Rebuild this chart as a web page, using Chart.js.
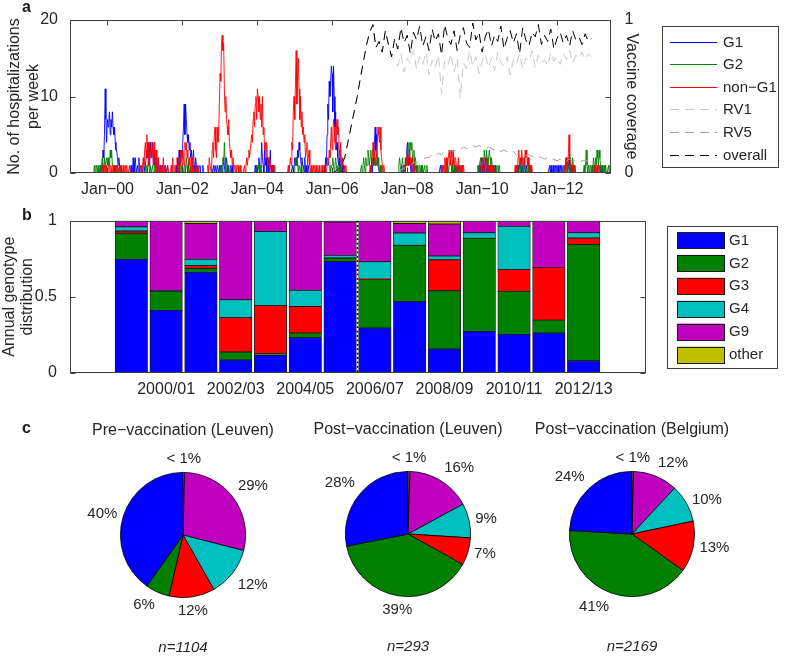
<!DOCTYPE html>
<html>
<head>
<meta charset="utf-8">
<script src="https://cdn.jsdelivr.net/npm/chart.js@4.4.0/dist/chart.umd.min.js"></script>
<style>
  html, body { margin: 0; padding: 0; background: #fff; }
  #fig { position: relative; width: 787px; height: 656px; overflow: hidden; font-family: "Liberation Sans", Arial, sans-serif; }
  #fig canvas { position: absolute; }
  .panel { position: absolute; font: bold 16px/16px "Liberation Sans", Arial, sans-serif; color: #1a1a1a; }
</style>
</head>
<body>
<div id="fig">
  <canvas id="hosp" width="787" height="200" style="left:0;top:0"></canvas>
  <canvas id="geno" width="787" height="200" style="left:0;top:200px"></canvas>
  <canvas id="pie1" width="240" height="240" style="left:63px;top:415px"></canvas>
  <canvas id="pie2" width="240" height="240" style="left:288px;top:414px"></canvas>
  <canvas id="pie3" width="240" height="240" style="left:512px;top:414px"></canvas>
  <div class="panel" style="left:22px;top:-1px">a</div>
  <div class="panel" style="left:22px;top:207px">b</div>
  <div class="panel" style="left:22px;top:420px">c</div>
</div>
<script>
const FONT = '"Liberation Sans", Arial, sans-serif';
Chart.defaults.font.family = FONT;
Chart.defaults.font.size = 16;
Chart.defaults.color = '#262626';

// ---- panel a: weekly hospitalizations (week 0 = 1 Jan 1999) ----
const firstYear = 1999;
const nWeeks = 754;
// blocks of [first week, weekly counts...]; all other weeks are 0
const g1Blocks = [
  [43, [1,0,1,3,2,5,11,7,4,7,6,7,8,5,7,6,8,6,5,6,4,3,3,2,1,2,1,0,1]],
  [85, [1,0,0,2,0,1,2,0,0,1,0,2]],
  [100, [1,0,0,1,0,1,2,3,2,4,3,1,4,2,3,4,2,1,3,1,0,1,0,2,0,0,1,0,0,1,0,0,1,0,0,0,1]],
  [148, [1,0,2,1,3,1,2,3,2,4,6,9,5,9,7,5,4,5,3,4,2,3,1,2,3,1,0,2,1,0,1,0,0,1,0,0,0,1]],
  [200, [1,0,1,1,0,1,1,0,1,0,1,1,0,1,2,1,0,1,2,1,0,1,0,0,1,0,1]],
  [258, [1,0,1,0,1,2,1,0,1,4,2,1,0,3,1,2,0,1,2,0,1,3,0,1,0,1]],
  [310, [1,0,1,2,1,2,1,3,2,4,3,2,1,2,1,1,0,2,0,1,0,0,1]],
  [354, [1,0,2,1,5,9,7,12,10,12,14,13,8,14,10,6,8,3,4,2,1,2,0,1,0,1,0,1]],
  [420, [1,0,2,1,4,6,3,5,2,1,1]],
  [462, [1,0,0,1,0,1,2,3,4,2,1,2,1,0,1,0,0,1]],
  [516, [1,0,1,0,0,0,0,0,0,0,0,0,0,0,0,0,0,0,0,1,0,0,0,0,0,1]],
  [570, [1,0,1,2,1,0,1,0,2,1,0,1,0,0,1,0,1,0,0,1,0,0,1]],
  [622, [1,0,1,0,0,0,1,0,1,0,0,1,0,0,1]],
  [668, [1,0,1,0,0,1,0,0,1,0,1,0,1,0,0,1,0,1,0,0,1,0,1,2,1,0,1,2,1,0,1,0,0,1]],
  [738, [1,0,0,1]]
];
const g2Blocks = [
  [34, [1,0,1,1,0,1,0,0,1,0,1,2,1,0,2,1,1,2,1,2,1,1,3,2,3,1,1,0,1,0,0,1,0,0,0,1]],
  [105, [1,0,1,0,2,1,0,1,0,0,1,0,0,1]],
  [152, [1,0,0,1,0,1,0,0,1,0,2,1,0,1,0,0,1,0,1]],
  [210, [1,0,1,2,1,4,2,1,0,1,0]],
  [260, [1,0,1,1,0,1]],
  [313, [1,1,2,1,1,0,1,1,0,1]],
  [362, [1,0,1,1,2,1,0,1,2,1,0,1,0,0,1]],
  [406, [1,0,1,2,1,0,2,1,1,3,2,1,2,3,1,2,1,3,2,1,2,1,1,2,1,0,1,0,1]],
  [458, [1,2,1,0,1,2,1,1,0,2,1,2,1,3,4,2,4,3,4,2,1,3,1,2,1,0,1,0,1,1,0,1,0,1,0,0,1,0,0,1]],
  [522, [1,0,1,2,1,0,1,1,2,1,0,1,2,1,0,1,0,1,1,0,0,1,0,1]],
  [568, [1,0,1,1,2,1,0,2,1,3,2,1,3,2,1,2,3,2,1,2,1,0,1,1,0,1,0,0,1,0,1]],
  [626, [1,0,1,2,1,0,1,2,1,1,0,1,2,0,1,0,1]],
  [690, [1,0,1,0,1,1,0,2,1,0,2,1,0,1,0]],
  [716, [1,0,1,3,1,0,1,0,1,1,0,1,0,2,1,0,2,1,3,2,1,3,2,1,0,1,0,0,1,0,1,0,0,0,1,0,1]]
];
const nonG1Blocks = [
  [45, [0,1,0,1,1,0,1,0,0,1,1,0,1,0,0,1,0,1,1,0,0,1,0,0,1,0,1,0,0,1,0,0,1,0,1,0,0,0,1]],
  [98, [1,0,0,1,2,1,3,4,2,5,3,4,1,4,3,2,4,3,1,4,2,1,3,0,1,2,0,1,0,1,0,0,2,0,0,1,0,0,1]],
  [140, [0,1,0,2,0,0,1,0,1,2,1,0,2,1,3,2,1,3,2,1,4,3,4,2,3,1,2,1,0,1,2,0,1,0,0,1,0,0,1]],
  [192, [1,0,2,1,1,0,3,4,2,5,6,3,2,6,4,5,9,13,12,17,18,16,17,11,8,10,7,6,5,7,4,3,2,3,1,2,1,1,0,1,0,1,1,0,0,1]],
  [243, [1,0,1,2,1,2,3,2,3,3,5,4,7,8,6,9,10,7,11,10,8,10,7,9,6,10,5,6,3,4,2,4,1,2,1,0,1,1,0,1,0,0,1]],
  [304, [1,0,1,2,1,4,3,8,10,7,12,16,9,13,15,11,7,10,6,8,5,6,4,5,2,3,4,1,2,3,1,0,1,0,0,1,0,1]],
  [342, [0,1,0,0,0,1,0,0,0,1,0,0,0,1,0,0,1,2,1,3,2,4,6,3,5,7,6,4,3,6,7,5,6,3,2,4,1,2,1,0,1,0,1]],
  [418, [1,0,1,2,4,3,2,1,3,2,4,6,5,4,6,3,2,1,0,1,0]],
  [466, [1,0,2,1,3,1,2,3,1,2,1,2,0,1,0,1,0]],
  [518, [1,0,1,0,2,1,2,0,1,2,3,2,1,3,2,1,3,1,2,2,1,0,1,2,0,1,0,0,1,0,1]],
  [572, [1,0,1,2,0,1,0,1,2,1,0,1,0,1,0,0,1,0,1]],
  [620, [1,0,1,0,2,3,1,2,1,3,2,1,2,1,3,2,3,1,2,1,0,1,0,1,0]],
  [688, [1,0,1,2,1,0,2,5,2,1,1,0,1,0,0,1,0]],
  [730, [1,0,1,0,1,0,1]]
];

// vaccine coverage, monthly values
const overallStart = 2006.0;
const overallCoverage = [0,0.01,0.03,0.06,0.1,0.2,0.3,0.4,0.5,0.62,0.73,0.84,0.92,0.97,
  0.82,0.86,0.79,0.93,0.84,0.76,0.88,0.81,0.95,0.85,0.9,0.78,0.92,0.87,0.96,0.83,0.89,0.8,0.94,0.86,
  0.91,0.77,0.97,0.88,0.84,0.93,0.8,0.9,0.95,0.85,0.82,0.98,0.87,0.92,0.79,0.89,0.94,0.83,0.9,0.86,
  0.96,0.81,0.88,0.93,0.85,0.91,0.78,0.95,0.87,0.83,0.92,0.89,0.97,0.84,0.9,0.86,0.94,0.81,0.88,0.92,
  0.85,0.9,0.83,0.93,0.87,0.89,0.84,0.91,0.86,0.88];
const rv1Start = 2006.0;
const rv1Coverage = [0,0.01,0.03,0.06,0.1,0.2,0.3,0.4,0.5,0.62,0.73,0.84,0.92,0.97,
  0.82,0.86,0.79,0.93,0.84,0.76,
  0.74,0.7,0.78,0.66,0.75,0.72,0.8,0.68,0.76,0.71,0.79,0.64,0.74,0.69,0.77,0.52,0.73,0.7,0.78,0.66,
  0.75,0.49,0.72,0.68,0.8,0.7,0.76,0.65,0.73,0.78,0.69,0.75,0.67,0.79,0.72,0.7,0.76,0.64,0.74,0.71,
  0.78,0.68,0.75,0.73,0.8,0.69,0.77,0.72,0.74,0.7,0.79,0.73,0.76,0.71,0.78,0.74,0.8,0.72,0.77,0.75,
  0.79,0.74,0.78,0.76];
const rv5Start = 2007.75;
const rv5Coverage = [0.01,0.02,0.03,0.05,0.05,0.07,0.07,0.08,0.09,0.1,0.1,0.12,0.11,0.13,0.12,0.14,
  0.13,0.15,0.14,0.16,0.15,0.17,0.16,0.17,0.18,0.17,0.18,0.17,0.16,0.17,0.16,0.15,0.16,0.14,0.15,0.14,
  0.13,0.14,0.12,0.13,0.12,0.11,0.12,0.11,0.1,0.11,0.1,0.09,0.1,0.09,0.09,0.08,0.09,0.08,0.08,0.09,
  0.08,0.08,0.07,0.08,0.08,0.08];

const tickYears = [2000, 2002, 2004, 2006, 2008, 2010, 2012];
const tickYearLabels = ['Jan\u221200','Jan\u221202','Jan\u221204','Jan\u221206','Jan\u221208','Jan\u221210','Jan\u221212'];

// ---- panel b: annual genotype distribution ----
const seasons = ['1999/00','2000/01','2001/02','2002/03','2003/04','2004/05','2005/06',
  '2006/07','2007/08','2008/09','2009/10','2010/11','2011/12','2012/13'];
const seasonTicks = [1, 3, 5, 7, 9, 11, 13];
const vaccineSeasonBreak = 6.5;
const g1Share = [0.746,0.41,0.66,0.083,0.116,0.23,0.732,0.294,0.469,0.156,0.272,0.252,0.261,0.079];
const g2Share = [0.171,0.125,0.026,0.053,0.011,0.031,0.02,0.322,0.369,0.383,0.612,0.283,0.085,0.765];
const g3Share = [0.015,0,0.018,0.226,0.314,0.175,0.003,0.004,0,0.204,0,0.143,0.347,0.042];
const g4Share = [0.028,0.005,0.042,0.118,0.487,0.106,0.017,0.11,0.081,0.025,0.037,0.285,0,0.035];
const g9Share = [0.04,0.46,0.236,0.52,0.072,0.458,0.219,0.27,0.063,0.21,0.079,0.037,0.307,0.079];
const otherShare = [0,0,0.018,0,0,0,0.009,0,0.018,0.022,0,0,0,0];

const genotypes = ['G1','G2','G3','G4','G9','other'];
const genoColors = ['#0000ff','#008000','#ff0000','#00bfbf','#bf00bf','#bfbf00'];

// ---- panel c: pies (percent, order G1,G2,G3,G4,G9,other) ----
const preLeuven = [40.2, 6.2, 11.8, 12.8, 28.6, 0.4];
const preLeuvenLabels = ['40%','6%','12%','12%','29%','< 1%'];
const postLeuven = [28.1, 38.8, 7.1, 8.9, 16.6, 0.5];
const postLeuvenLabels = ['28%','39%','7%','9%','16%','< 1%'];
const postBelgium = [24.1, 41.0, 13.2, 9.8, 11.5, 0.4];
const postBelgiumLabels = ['24%','41%','13%','10%','12%','< 1%'];

// ---------------------------------------------------------------
function weekly(blocks) {
  const counts = new Array(nWeeks).fill(0);
  blocks.forEach(([start, vals]) => vals.forEach((v, i) => { counts[start + i] = v; }));
  return counts.map((v, w) => ({ x: firstYear + w * 7 / 365.25, y: v }));
}
const monthly = (start, vals) => vals.map((v, i) => ({ x: start + i / 12, y: v }));

const framePlugin = {
  id: 'frame',
  afterDatasetsDraw(chart, args, opts) {
    const { ctx, chartArea: a } = chart;
    const L = Math.round(a.left) + 0.5, R = Math.round(a.right) - 0.5;
    const T = Math.round(a.top) + 0.5, B = Math.round(a.bottom) - 0.5;
    ctx.save();
    ctx.strokeStyle = '#404040';
    ctx.lineWidth = 1;
    ctx.strokeRect(L, T, R - L, B - T);
    const len = 5;
    Object.entries(opts.marks || {}).forEach(([id, sides]) => {
      const s = chart.scales[id];
      s.ticks.forEach(t => {
        const p = Math.round(s.getPixelForValue(t.value)) + 0.5;
        ctx.beginPath();
        if (s.isHorizontal()) {
          if (sides.includes('top')) { ctx.moveTo(p, T); ctx.lineTo(p, T + len); }
          if (sides.includes('bottom')) { ctx.moveTo(p, B); ctx.lineTo(p, B - len); }
        } else {
          if (sides.includes('left')) { ctx.moveTo(L, p); ctx.lineTo(L + len, p); }
          if (sides.includes('right')) { ctx.moveTo(R, p); ctx.lineTo(R - len, p); }
        }
        ctx.stroke();
      });
    });
    ctx.restore();
  }
};

const hospLegend = {
  id: 'hospLegend',
  afterDraw(chart) {
    const ctx = chart.ctx;
    ctx.save();
    ctx.strokeStyle = '#404040';
    ctx.lineWidth = 1;
    ctx.strokeRect(662.5, 26.5, 116, 141);
    ctx.font = '15px ' + FONT;
    ctx.textBaseline = 'middle';
    ctx.fillStyle = '#262626';
    chart.data.datasets.forEach((ds, i) => {
      const y = Math.round(41.5 + i * 22.6) + 0.5;
      ctx.strokeStyle = ds.borderColor;
      ctx.setLineDash(ds.borderDash || []);
      ctx.beginPath();
      ctx.moveTo(670, y);
      ctx.lineTo(717, y);
      ctx.stroke();
      ctx.fillText(ds.label, 723, y);
    });
    ctx.restore();
  }
};

const countLine = (label, blocks, color, order) => ({
  label, data: weekly(blocks), borderColor: color, borderWidth: 0.9,
  pointRadius: 0, tension: 0, clip: 0, order, yAxisID: 'y'
});
const coverLine = (label, start, vals, color, order) => ({
  label, data: monthly(start, vals), borderColor: color, borderWidth: 1,
  borderDash: [9, 6], pointRadius: 0, tension: 0, clip: 0, order, yAxisID: 'yR'
});

new Chart(document.getElementById('hosp'), {
  type: 'line',
  data: {
    datasets: [
      countLine('G1', g1Blocks, '#0000ff', 5),
      countLine('G2', g2Blocks, '#008000', 4),
      countLine('non\u2212G1', nonG1Blocks, '#ff0000', 3),
      coverLine('RV1', rv1Start, rv1Coverage, '#c8c8c8', 2),
      coverLine('RV5', rv5Start, rv5Coverage, '#a0a0a0', 1),
      coverLine('overall', overallStart, overallCoverage, '#000000', 0)
    ]
  },
  options: {
    responsive: false,
    animation: false,
    layout: { padding: { top: 20, left: 0, right: 0, bottom: 0 } },
    plugins: {
      legend: { display: false },
      tooltip: { enabled: false },
      frame: { marks: { x: ['top', 'bottom'], y: ['left'], yR: ['right'] } }
    },
    scales: {
      x: {
        type: 'linear', min: 1999, max: 2013.44,
        grid: { display: false }, border: { display: false },
        afterBuildTicks: s => { s.ticks = tickYears.map(v => ({ value: v })); },
        ticks: { callback: (v, i) => tickYearLabels[i], autoSkip: false, maxRotation: 0, padding: -1 },
        afterFit: s => { s.height = 27; }
      },
      y: {
        position: 'left', min: 0, max: 20,
        grid: { display: false }, border: { display: false },
        ticks: { stepSize: 10, padding: 4 },
        title: { display: true, text: ['No. of hospitalizations', 'per week'],
          font: { size: 16, lineHeight: 1.15 }, padding: { top: 5.8, bottom: 0 } },
        afterFit: s => { s.width = 70; }
      },
      yR: {
        position: 'right', min: 0, max: 1,
        grid: { display: false }, border: { display: false },
        ticks: { stepSize: 0.5, padding: 5.5, callback: v => (v === 0.5 ? '' : String(v)) },
        title: { display: true, text: 'Vaccine coverage',
          font: { size: 16, lineHeight: 1.15 }, padding: { top: 146, bottom: 0 } },
        afterFit: s => { s.width = 176; }
      }
    }
  },
  plugins: [framePlugin, hospLegend]
});

// ---- panel b ----
const dividerPlugin = {
  id: 'divider',
  afterDatasetsDraw(chart) {
    const { ctx, chartArea: a } = chart;
    const x = chart.scales.x.getPixelForValue(vaccineSeasonBreak);
    ctx.save();
    ctx.strokeStyle = '#000';
    ctx.lineWidth = 1.6;
    ctx.setLineDash([1.8, 2.6]);
    ctx.beginPath();
    ctx.moveTo(x, a.top);
    ctx.lineTo(x, a.bottom);
    ctx.stroke();
    ctx.restore();
  }
};

const genoLegend = {
  id: 'genoLegend',
  afterDraw(chart) {
    const ctx = chart.ctx;
    ctx.save();
    ctx.strokeStyle = '#404040';
    ctx.lineWidth = 1;
    ctx.strokeRect(667.5, 26.5, 110, 142);
    ctx.font = '15px ' + FONT;
    ctx.textBaseline = 'middle';
    chart.data.datasets.forEach((ds, i) => {
      const y = 40 + i * 22.9;
      ctx.fillStyle = ds.backgroundColor;
      ctx.fillRect(677, y - 8, 47, 16.5);
      ctx.strokeStyle = '#1a1a1a';
      ctx.strokeRect(677.5, Math.round(y - 8) + 0.5, 47, 16);
      ctx.fillStyle = '#262626';
      ctx.fillText(ds.label, 729, y + 0.5);
    });
    ctx.restore();
  }
};

const shares = [g1Share, g2Share, g3Share, g4Share, g9Share, otherShare];

new Chart(document.getElementById('geno'), {
  type: 'bar',
  data: {
    datasets: genotypes.map((g, k) => ({
      label: g,
      data: shares[k].map((v, i) => ({ x: i, y: v })),
      backgroundColor: genoColors[k],
      borderColor: '#1a1a1a',
      borderWidth: 0.8,
      borderSkipped: false,
      barThickness: 32.5
    }))
  },
  options: {
    responsive: false,
    animation: false,
    layout: { padding: { top: 20.7, right: 141, left: 0, bottom: 0 } },
    plugins: {
      legend: { display: false },
      tooltip: { enabled: false },
      frame: { marks: { y: ['left', 'right'] } }
    },
    scales: {
      x: {
        type: 'linear', stacked: true, min: -0.58, max: 13.61,
        grid: { display: false }, border: { display: false },
        afterBuildTicks: s => { s.ticks = seasonTicks.map(v => ({ value: v })); },
        ticks: { callback: (v, i) => seasons[seasonTicks[i]], autoSkip: false, maxRotation: 0, padding: -0.5 },
        afterFit: s => { s.height = 27.3; }
      },
      y: {
        stacked: true, min: 0, max: 1,
        grid: { display: false }, border: { display: false },
        ticks: { stepSize: 0.5, padding: 5, callback: v => String(v) },
        title: { display: true, text: ['Annual genotype', 'distribution'],
          font: { size: 16, lineHeight: 1.15 }, padding: { top: 0, bottom: 0 } },
        afterFit: s => { s.width = 70; }
      }
    }
  },
  plugins: [framePlugin, dividerPlugin, genoLegend]
});

// ---- panel c ----
const pieDecor = {
  id: 'pieDecor',
  afterDraw(chart, args, opts) {
    const { ctx } = chart;
    const arcs = chart.getDatasetMeta(0).data;
    const cx = arcs[0].x, cy = arcs[0].y, r = arcs[0].outerRadius;
    ctx.save();
    ctx.fillStyle = '#262626';
    ctx.textAlign = 'center';
    ctx.textBaseline = 'middle';
    ctx.font = '16px ' + FONT;
    ctx.fillText(opts.title, cx, opts.titleY);
    ctx.font = 'italic 15px ' + FONT;
    ctx.fillText(opts.count, cx, opts.countY);
    ctx.font = '15px ' + FONT;
    arcs.forEach((arc, i) => {
      const mid = (arc.startAngle + arc.endAngle) / 2;
      const c = Math.cos(mid), s = Math.sin(mid);
      ctx.textAlign = Math.abs(c) < 0.3 ? 'center' : (c < 0 ? 'right' : 'left');
      ctx.textBaseline = s < -0.5 ? 'bottom' : (s > 0.5 ? 'top' : 'middle');
      ctx.fillText(opts.labels[i], cx + 1.1 * r * c, cy + 1.1 * r * s);
    });
    ctx.restore();
  }
};

function drawPie(id, values, labels, title, count) {
  // matlab draws counter-clockwise from the top; chart.js goes clockwise
  new Chart(document.getElementById(id), {
    type: 'pie',
    data: {
      labels: genotypes.slice().reverse(),
      datasets: [{
        data: values.slice().reverse(),
        backgroundColor: genoColors.slice().reverse(),
        borderColor: '#000',
        borderWidth: 0.8
      }]
    },
    options: {
      responsive: false,
      animation: false,
      layout: { padding: 57 },
      plugins: {
        legend: { display: false },
        tooltip: { enabled: false },
        pieDecor: { title, count, labels: labels.slice().reverse(), titleY: 16, countY: 233 }
      }
    },
    plugins: [pieDecor]
  });
}

drawPie('pie1', preLeuven, preLeuvenLabels, 'Pre\u2212vaccination (Leuven)', 'n=1104');
drawPie('pie2', postLeuven, postLeuvenLabels, 'Post\u2212vaccination (Leuven)', 'n=293');
drawPie('pie3', postBelgium, postBelgiumLabels, 'Post\u2212vaccination (Belgium)', 'n=2169');
</script>
</body>
</html>
